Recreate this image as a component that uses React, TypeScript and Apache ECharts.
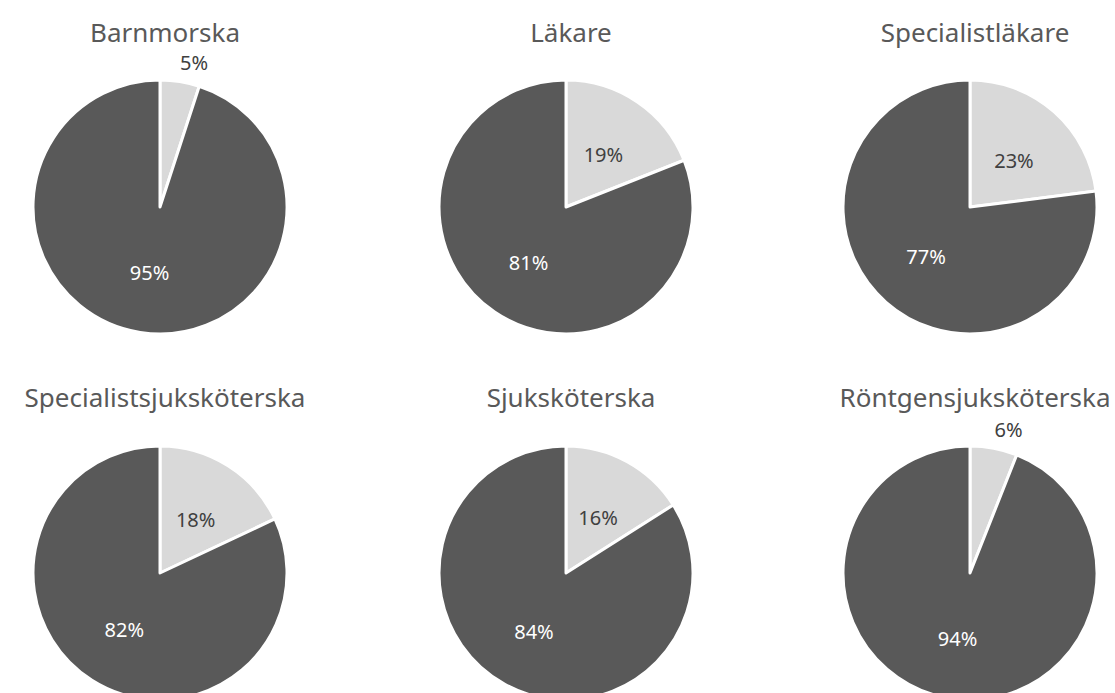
import React, { useEffect, useRef } from "react";
import * as echarts from "echarts";

const titles = [
  "Barnmorska",
  "Läkare",
  "Specialistläkare",
  "Specialistsjuksköterska",
  "Sjuksköterska",
  "Röntgensjuksköterska",
];
const sliceNames = ["Andel", "Övriga"];
const lightValues = [5, 19, 23, 18, 16, 6];
const darkValues = [95, 81, 77, 82, 84, 94];

const colX = [160, 566, 970];
const rowY = [207, 573];
const titleY = [14, 379];
const radius = 127;
const FONT = "'Noto Sans', sans-serif";

export default function App() {
  const ref = useRef<HTMLDivElement>(null);
  useEffect(() => {
    if (!ref.current) return;
    const chart = echarts.init(ref.current, null, { renderer: "svg" });
    const series: any[] = [];
    const title: any[] = [];
    titles.forEach((t, i) => {
      const cx = colX[i % 3];
      const cy = rowY[Math.floor(i / 3)];
      title.push({
        text: t,
        left: cx,
        top: titleY[Math.floor(i / 3)],
        textAlign: "center",
        padding: [5, 5, 2, 5],
        textStyle: { fontFamily: FONT, fontSize: 26, fontWeight: "normal", color: "#595959", lineHeight: 26 },
      });
      const small = lightValues[i] < 10;
      series.push({
        type: "pie",
        center: [cx, cy],
        radius: radius,
        startAngle: 90,
        clockwise: true,
        avoidLabelOverlap: false,
        silent: true,
        itemStyle: { borderColor: "#ffffff", borderWidth: 3 },
        labelLayout: (p: any) => {
          if (p.dataIndex === 0 && small) return { dx: -3, dy: 1 };
          if (p.dataIndex === 0) return { dy: 3 };
          return {};
        },
        data: [
          {
            name: sliceNames[0],
            value: lightValues[i],
            itemStyle: { color: "#d9d9d9" },
            label: small
              ? { position: "outside", color: "#404040", alignTo: "none", distanceToLabelLine: 0, lineHeight: 16 }
              : { position: "inside", color: "#404040" },
            labelLine: { show: false, length: 20, length2: 0 },
          },
          {
            name: sliceNames[1],
            value: darkValues[i],
            itemStyle: { color: "#595959" },
            label: { position: "inside", color: "#ffffff" },
          },
        ],
        label: {
          show: true,
          formatter: (p: any) => p.value + "%",
          fontFamily: FONT,
          fontSize: 20,
        },
        labelLine: { show: false },
      });
    });
    chart.setOption({ animation: false, title, series });
    return () => chart.dispose();
  }, []);
  return (
    <div
      ref={ref}
      style={{ position: "fixed", left: 0, top: 0, width: 1115, height: 693, background: "#fff" }}
    />
  );
}
